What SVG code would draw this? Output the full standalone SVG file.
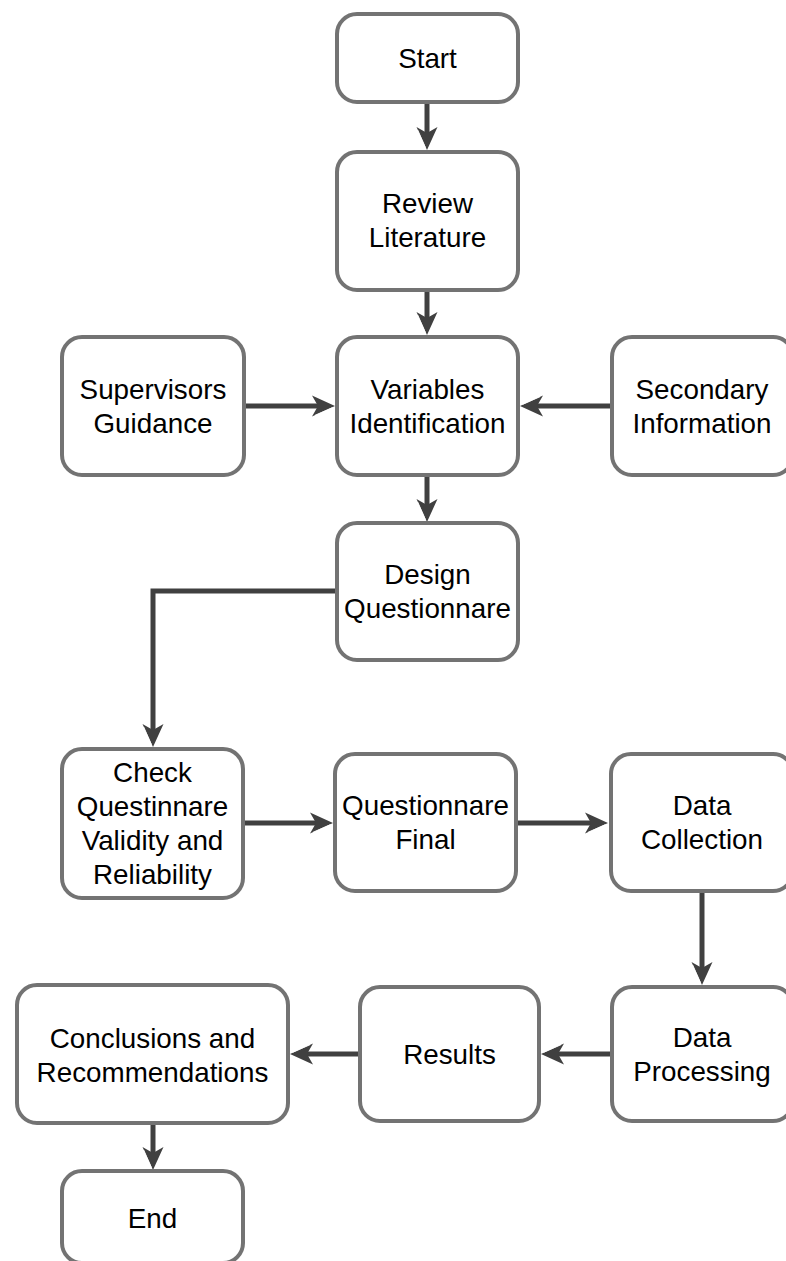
<svg xmlns="http://www.w3.org/2000/svg" width="786" height="1261" viewBox="0 0 786 1261">
<style>
.box{fill:#ffffff;stroke:#737373;stroke-width:4}
.lbl{font-family:"Liberation Sans",Arial,sans-serif;font-size:27.8px;fill:#000000;text-anchor:middle}
.con{fill:none;stroke:#404040;stroke-width:5;marker-end:url(#arr)}
</style>
<defs>
<marker id="arr" markerUnits="userSpaceOnUse" markerWidth="26" markerHeight="26" viewBox="-25 -13 26 26" refX="-17" refY="0" orient="auto" overflow="visible">
<path d="M0,0 L-23,-10.5 L-17,0 L-23,10.5 Z" fill="#404040"/>
<path d="M-2.5,1.6 L-20,9.3" stroke="#ffffff" stroke-width="0.9" fill="none"/>
</marker>
</defs>
<rect width="786" height="1261" fill="#ffffff"/>
<g id="connectors">
<path class="con" d="M427,104 V133"/>
<path class="con" d="M427,292 V318"/>
<path class="con" d="M246,406 H318"/>
<path class="con" d="M610,406 H537"/>
<path class="con" d="M427,477 V505"/>
<path class="con" d="M335,591 H153 V730"/>
<path class="con" d="M245,823 H316"/>
<path class="con" d="M518,823 H591"/>
<path class="con" d="M702,893 V968"/>
<path class="con" d="M610,1054 H558"/>
<path class="con" d="M358,1054 H307"/>
<path class="con" d="M153,1125 V1153"/>
</g>
<g id="start"><rect class="box" x="337" y="14" width="181" height="88" rx="20"/><text class="lbl" x="427.5" y="68">Start</text></g>
<g id="review"><rect class="box" x="337" y="152" width="181" height="138" rx="20"/><text class="lbl" x="427.5" y="213">Review</text><text class="lbl" x="427.5" y="247">Literature</text></g>
<g id="variables"><rect class="box" x="337" y="337" width="181" height="138" rx="20"/><text class="lbl" x="427.5" y="399">Variables</text><text class="lbl" x="427.5" y="433">Identification</text></g>
<g id="supervisors"><rect class="box" x="62" y="337" width="182" height="138" rx="20"/><text class="lbl" x="153" y="399">Supervisors</text><text class="lbl" x="153" y="433">Guidance</text></g>
<g id="secondary"><rect class="box" x="612" y="337" width="181" height="138" rx="20"/><text class="lbl" x="702" y="399">Secondary</text><text class="lbl" x="702" y="433">Information</text></g>
<g id="design"><rect class="box" x="337" y="523" width="181" height="137" rx="20"/><text class="lbl" x="427.5" y="584">Design</text><text class="lbl" x="427.5" y="618">Questionnare</text></g>
<g id="check"><rect class="box" x="62" y="749" width="181" height="149" rx="20"/><text class="lbl" x="152.5" y="782">Check</text><text class="lbl" x="152.5" y="816">Questinnare</text><text class="lbl" x="152.5" y="850">Validity and</text><text class="lbl" x="152.5" y="884">Reliability</text></g>
<g id="qfinal"><rect class="box" x="335" y="754" width="181" height="137" rx="20"/><text class="lbl" x="425.5" y="815">Questionnare</text><text class="lbl" x="425.5" y="849">Final</text></g>
<g id="collection"><rect class="box" x="611" y="754" width="182" height="137" rx="20"/><text class="lbl" x="702" y="815">Data</text><text class="lbl" x="702" y="849">Collection</text></g>
<g id="processing"><rect class="box" x="612" y="987" width="181" height="134" rx="20"/><text class="lbl" x="702" y="1047">Data</text><text class="lbl" x="702" y="1081">Processing</text></g>
<g id="results"><rect class="box" x="360" y="987" width="179" height="134" rx="20"/><text class="lbl" x="449.5" y="1064">Results</text></g>
<g id="conclusions"><rect class="box" x="17" y="985" width="271" height="138" rx="20"/><text class="lbl" x="152.5" y="1048">Conclusions and</text><text class="lbl" x="152.5" y="1082">Recommendations</text></g>
<g id="end"><rect class="box" x="62" y="1171" width="181" height="92" rx="20"/><text class="lbl" x="152.5" y="1228">End</text></g>
</svg>
